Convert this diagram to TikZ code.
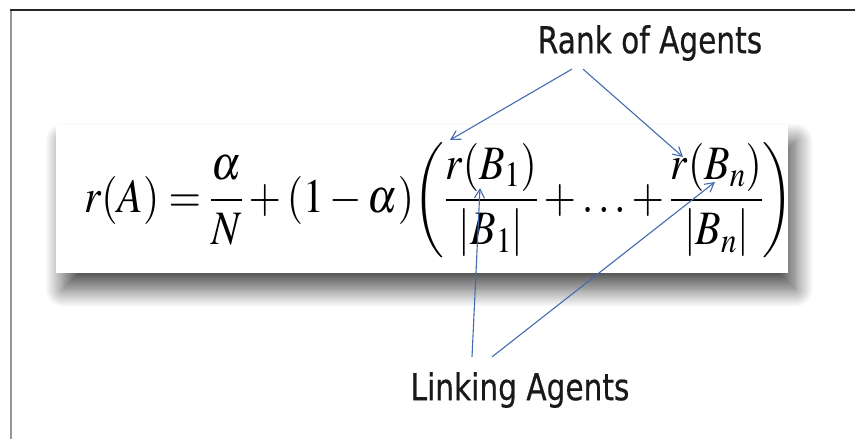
\documentclass[tikz,border=0pt]{standalone}
\usepackage{mathptmx}
\usepackage{graphicx}
\usepackage[no-math]{fontspec}
\usetikzlibrary{positioning,arrows.meta,calc,shadows.blur}
\newfontfamily\agentfont[FakeStretch=0.8,FakeBold=0.5]{DejaVu Sans}
\definecolor{ArrowBlue}{RGB}{68,107,176}
\definecolor{FrameGray}{RGB}{150,150,150}
\tikzset{
  pointer/.style={-{Straight Barb[length=9pt,width=10pt]},line width=1.1pt,draw=ArrowBlue},
  agenttag/.style={font=\agentfont\fontsize{37}{40}\selectfont,inner sep=0pt,text=black!90},
  eqbox/.style={fill=white,draw=none,inner sep=0pt,
    blur shadow={shadow xshift=7pt,shadow yshift=-16pt,shadow blur radius=18pt,
      shadow blur steps=24,shadow opacity=70}}
}

\begin{document}
\begin{tikzpicture}[x=1pt,y=-1pt]
  \useasboundingbox (0,0) rectangle (855,439);
  % page frame
  \draw[FrameGray,line width=2pt] (11,439) -- (11,10);
  \draw[black!85,line width=1.1pt] (10,10) -- (855,10);
  % formula panel
  \node[eqbox,minimum width=732pt,minimum height=148pt,anchor=north west] (panel) at (56,125) {};
  \node[anchor=west,inner sep=0pt,font=\fontsize{48}{54}\selectfont] (formula) at (84,200)
    {\scalebox{0.87}[1]{$\displaystyle r(A)=\frac{\alpha}{N}+(1-\alpha)\!\left(\frac{r(B_1)}{|B_1|}+\ldots+\frac{r(B_n)}{|B_n|}\right)$}};
  % labels
  \node[agenttag] (rank) at (650,43) {Rank of Agents};
  \node[agenttag] (link) at (520,390) {Linking Agents};
  % arrow targets
  \coordinate (rtip1) at (450,140);
  \coordinate (rtip2) at (683,157);
  \coordinate (ltip1) at (480,188);
  \coordinate (ltip2) at (715,182);
  \draw[pointer] ([xshift=-78pt,yshift=-8pt]rank.south) -- (rtip1);
  \draw[pointer] ([xshift=-67pt,yshift=-8pt]rank.south) -- (rtip2);
  \draw[pointer] ([xshift=-48pt,yshift=15pt]link.north) -- (ltip1);
  \draw[pointer] ([xshift=-28pt,yshift=15pt]link.north) -- (ltip2);
\end{tikzpicture}
\end{document}
